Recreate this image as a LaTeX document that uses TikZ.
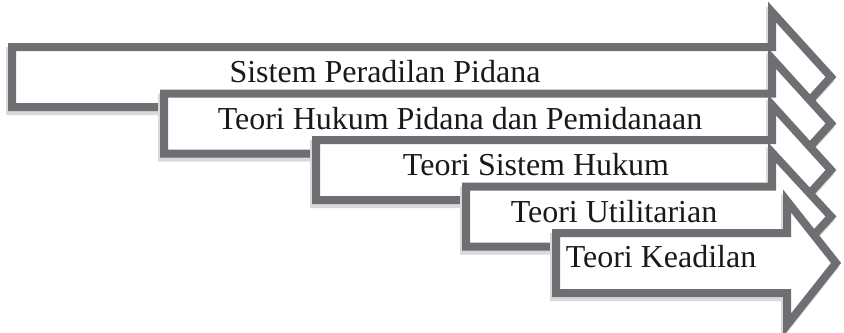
\documentclass[tikz,border=0pt]{standalone}
\usepackage{fontspec}
\setmainfont{Liberation Serif}
\definecolor{arrowgray}{RGB}{110,111,114}
\begin{document}
\begin{tikzpicture}[x=0.3mm,y=-0.3mm,
  arrowline/.style={draw=arrowgray,fill=white,line width=2.4mm,line join=miter},
  shadowline/.style={draw=black!15,fill=black!15,line width=2.4mm,line join=miter},
  label/.style={anchor=base,font=\fontsize{27.3}{30}\selectfont,text=black!90,inner sep=0pt}]
  \useasboundingbox (0,0) rectangle (844,332);

  % left end / centre / head base / tip / head half-height
  \foreach \l/\c/\b/\t/\h in {12/77/772/831/65, 164/123.5/772/831/65,
      316/170/772/831/65, 466/216.5/772/831/64, 556/263/787/836/62} {
    \draw [shadowline,shift={(-2,4)}] (\l,\c-30) -- (\b,\c-30) -- (\b,\c-\h)
      -- (\t,\c) -- (\b,\c+\h) -- (\b,\c+30) -- (\l,\c+30) -- cycle;
    \draw [arrowline] (\l,\c-30) -- (\b,\c-30) -- (\b,\c-\h)
      -- (\t,\c) -- (\b,\c+\h) -- (\b,\c+30) -- (\l,\c+30) -- cycle;
  }

  \node [label] (peradilan) at (385,82) {Sistem Peradilan Pidana};
  \node [label] (pemidanaan) at (460,129) {Teori Hukum Pidana dan Pemidanaan};
  \node [label] (sistemhukum) at (536,175) {Teori Sistem Hukum};
  \node [label] (utilitarian) at (614,222) {Teori Utilitarian};
  \node [label] (keadilan) at (661,267) {Teori Keadilan};
\end{tikzpicture}
\end{document}
